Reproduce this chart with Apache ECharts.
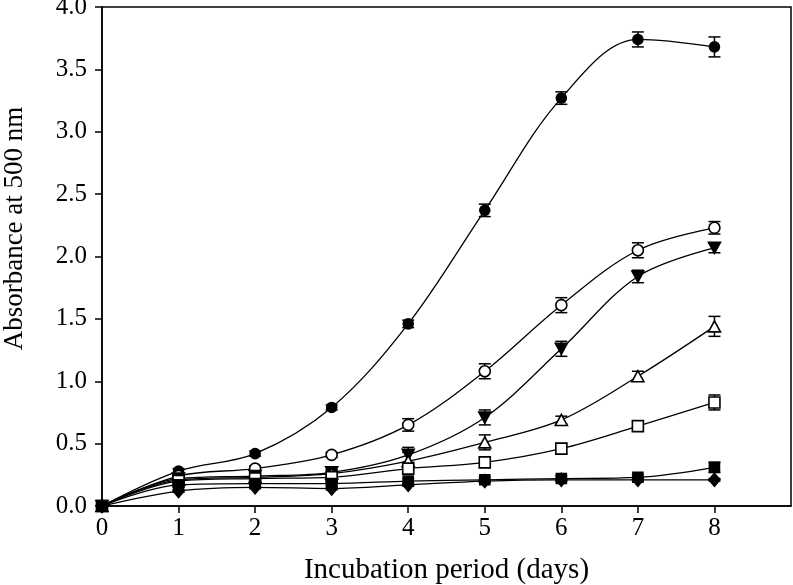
<!DOCTYPE html>
<html>
<head>
<meta charset="utf-8">
<script src="https://cdn.jsdelivr.net/npm/echarts@6/dist/echarts.min.js"></script>
<style>html,body{margin:0;padding:0;background:#fff;}#c{width:793px;height:585px;}</style>
</head>
<body>
<div id="c"></div>
<script>
var days = [0, 1, 2, 3, 4, 5, 6, 7, 8];
var xTicks = [0, 1, 2, 3, 4, 5, 6, 7, 8];
var yTicks = [0, 0.5, 1.0, 1.5, 2.0, 2.5, 3.0, 3.5, 4.0];

var filledCircle   = [0, 0.28, 0.42, 0.79, 1.46, 2.37, 3.27, 3.74, 3.68];
var filledCircleErr= [0, 0.02, 0.02, 0.02, 0.03, 0.05, 0.05, 0.06, 0.08];
var openCircle     = [0, 0.24, 0.30, 0.41, 0.65, 1.08, 1.61, 2.05, 2.23];
var openCircleErr  = [0, 0.02, 0.02, 0.02, 0.05, 0.06, 0.06, 0.06, 0.05];
var invTriangle    = [0, 0.22, 0.24, 0.27, 0.41, 0.71, 1.26, 1.84, 2.07];
var invTriangleErr = [0, 0.02, 0.02, 0.02, 0.06, 0.06, 0.06, 0.05, 0.04];
var openTriangle   = [0, 0.21, 0.23, 0.26, 0.36, 0.51, 0.69, 1.04, 1.44];
var openTriangleErr= [0, 0.02, 0.02, 0.02, 0.07, 0.06, 0.03, 0.04, 0.08];
var openSquare     = [0, 0.20, 0.22, 0.23, 0.30, 0.35, 0.46, 0.64, 0.83];
var openSquareErr  = [0, 0.02, 0.02, 0.06, 0.04, 0.04, 0.04, 0.04, 0.06];
var filledSquare   = [0, 0.17, 0.18, 0.18, 0.20, 0.21, 0.22, 0.23, 0.31];
var filledSquareErr= [0, 0.02, 0.02, 0.02, 0.02, 0.02, 0.02, 0.02, 0.04];
var filledDiamond  = [0, 0.12, 0.15, 0.14, 0.17, 0.20, 0.21, 0.21, 0.21];
var filledDiamondErr=[0, 0.01, 0.01, 0.01, 0.01, 0.01, 0.01, 0.01, 0.01];

var FONT = 'Liberation Serif';
var seriesDefs = [
  {name:'filledCircle', v:filledCircle, e:filledCircleErr, symbol:'circle', size:10, fill:'#000'},
  {name:'openCircle', v:openCircle, e:openCircleErr, symbol:'circle', size:11, fill:'#fff'},
  {name:'invTriangle', v:invTriangle, e:invTriangleErr, symbol:'path://M0,0 L10,0 L5,9 Z', size:[12,11], fill:'#000'},
  {name:'openTriangle', v:openTriangle, e:openTriangleErr, symbol:'triangle', size:[12,11], fill:'#fff'},
  {name:'openSquare', v:openSquare, e:openSquareErr, symbol:'rect', size:11, fill:'#fff'},
  {name:'filledSquare', v:filledSquare, e:filledSquareErr, symbol:'rect', size:10, fill:'#000'},
  {name:'filledDiamond', v:filledDiamond, e:filledDiamondErr, symbol:'diamond', size:[11,13], fill:'#000'}
];

var series = [];
seriesDefs.forEach(function(d){
  var errData = days.map(function(x,i){ return [x, d.v[i]-d.e[i], d.v[i]+d.e[i]]; }).filter(function(p,i){return i>0;});
  series.push({
    type:'custom', name:d.name+'Err', z:3,
    renderItem:function(params, api){
      var x = api.value(0);
      var lo = api.coord([x, api.value(1)]);
      var hi = api.coord([x, api.value(2)]);
      var w = 6;
      var st = {stroke:'#000', lineWidth:1.5};
      return {type:'group', children:[
        {type:'line', shape:{x1:lo[0],y1:lo[1],x2:hi[0],y2:hi[1]}, style:st},
        {type:'line', shape:{x1:lo[0]-w,y1:lo[1],x2:lo[0]+w,y2:lo[1]}, style:st},
        {type:'line', shape:{x1:hi[0]-w,y1:hi[1],x2:hi[0]+w,y2:hi[1]}, style:st}
      ]};
    },
    data: errData, silent:true
  });
  series.push({
    type:'line', name:d.name, z:4,
    data: days.map(function(x,i){ return [x, d.v[i]]; }),
    smooth:0.35,
    symbol:d.symbol, symbolSize:d.size, showAllSymbol:true,
    lineStyle:{color:'#000', width:1.3},
    itemStyle:{color:d.fill, borderColor:'#000', borderWidth:1.6},
    emphasis:{disabled:true}, animation:false
  });
});

var chart = echarts.init(document.getElementById('c'), null, {renderer:'canvas'});
chart.setOption({
  animation:false,
  backgroundColor:'#fff',
  grid:{left:102, right:2, top:7, bottom:79, show:true, containLabel:false, outerBoundsMode:'none',
    borderColor:'#000', borderWidth:1.5, backgroundColor:'transparent'},
  xAxis:{
    type:'value', min:0, max:9, interval:1,
    name:'Incubation period (days)', nameLocation:'middle', nameGap:50,
    nameTextStyle:{fontFamily:FONT, fontSize:29, color:'#000'},
    axisLine:{show:true, lineStyle:{color:'#000', width:1.5}},
    axisTick:{show:true, length:7, customValues:xTicks, lineStyle:{color:'#000', width:1.5}},
    axisLabel:{fontFamily:FONT, fontSize:25, color:'#000', margin:10, customValues:xTicks,
      formatter:function(v){ return String(v); }},
    splitLine:{show:false}
  },
  yAxis:{
    type:'value', min:0, max:4, interval:0.5,
    name:'Absorbance at 500 nm', nameLocation:'middle', nameGap:74,
    nameTextStyle:{fontFamily:FONT, fontSize:27, color:'#000', padding:[0,0,0,56]},
    axisLine:{show:true, lineStyle:{color:'#000', width:1.5}},
    axisTick:{show:true, length:7, customValues:yTicks, lineStyle:{color:'#000', width:1.5}},
    axisLabel:{fontFamily:FONT, fontSize:25, color:'#000', margin:15, customValues:yTicks,
      formatter:function(v){ return v.toFixed(1); }},
    splitLine:{show:false}
  },
  series: series
});
</script>
</body>
</html>
